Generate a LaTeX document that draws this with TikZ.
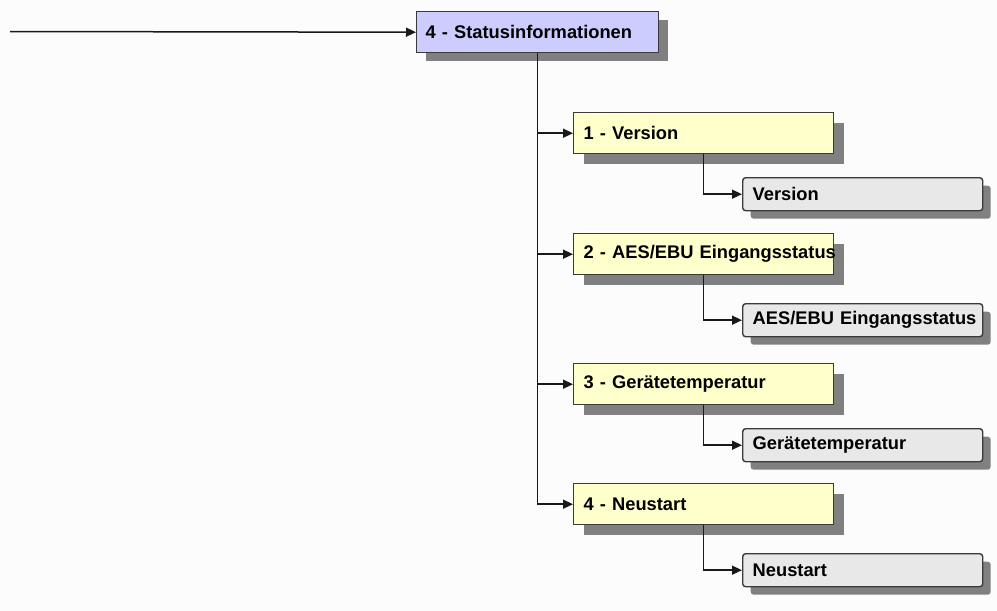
\documentclass[tikz,border=0pt]{standalone}
\usepackage{fontspec}
\setmainfont{Liberation Sans}
\usepackage{tikz}
\usetikzlibrary{arrows.meta,shadows}
\definecolor{statfill}{HTML}{CCCCFF}
\definecolor{groupfill}{HTML}{FFFFCC}
\definecolor{itemfill}{HTML}{E8E8E8}
\definecolor{framecol}{HTML}{3A3A3A}
\tikzset{
  menubox/.style ={rectangle, draw=framecol, line width=1.4pt, anchor=north west,
                   align=left, text=black, inner ysep=0pt,
                   font=\fontsize{18.3}{20}\selectfont\bfseries},
  statbox/.style ={menubox, fill=statfill, inner xsep=9pt, text width=224pt,
                   minimum height=41pt,
                   drop shadow={shadow xshift=9pt, shadow yshift=-8pt,
                                opacity=1, fill=black!50}},
  groupbox/.style={menubox, fill=groupfill, inner xsep=10pt, text width=240pt,
                   minimum height=41pt,
                   drop shadow={shadow xshift=10pt, shadow yshift=-10pt,
                                opacity=1, fill=black!50}},
  itembox/.style ={menubox, fill=itemfill, rounded corners=3pt, inner xsep=10pt,
                   text width=220pt, minimum height=33pt,
                   drop shadow={shadow xshift=8pt, shadow yshift=-8pt,
                                opacity=1, fill=black!50}},
  % every connector ends in a filled triangle at the box it enters
  link/.style    ={draw=black!90, line width=1.5pt,
                   -{Triangle[length=10pt,width=9pt]}},
}
\def\grouplist{1/112/{1 - Version}, 2/233/{2 - AES/EBU Eingangsstatus},
               3/363/{3 - Gerätetemperatur}, 4/483/{4 - Neustart}}
\def\itemlist{1/177/{Version}, 2/303/{AES/EBU Eingangsstatus},
              3/428/{Gerätetemperatur}, 4/553/{Neustart}}

\begin{document}
\begin{tikzpicture}[x=1pt, y=-1pt]
\fill[black!1] (0,0) rectangle (997,611);
\useasboundingbox (0,0) rectangle (997,611);
\node[statbox] (stat) at (416,11) {\mbox{4 - Statusinformationen}};
\foreach \i/\y/\t in \grouplist {\node[groupbox] (g\i) at (573,\y) {\mbox{\t}};}
\foreach \i/\y/\t in \itemlist  {\node[itembox]  (e\i) at (742,\y) {\mbox{\t}};}
\coordinate (entry) at (10,31.5);
\draw[link] (entry) -- (stat.west);
\foreach \i in {1,...,4}
  {\draw[link] (stat.south) |- (g\i.west);
   \draw[link] (g\i.south) |- (e\i.west);}
\end{tikzpicture}
\end{document}
